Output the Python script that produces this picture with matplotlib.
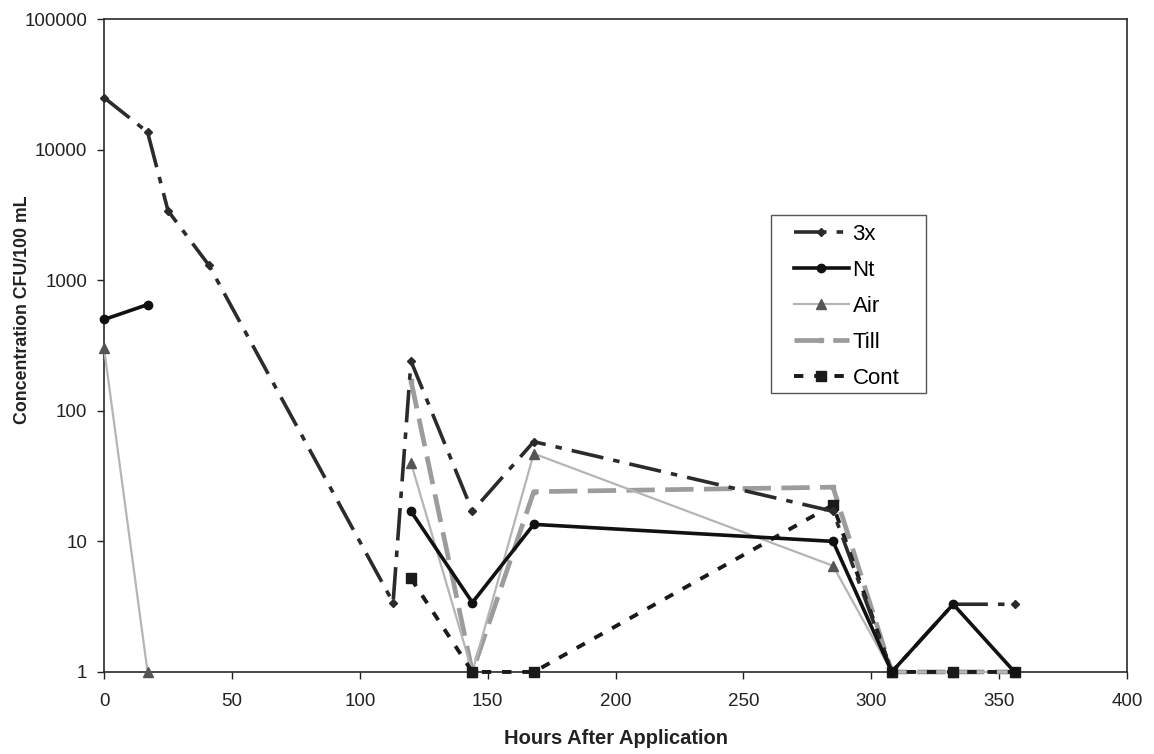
import matplotlib
matplotlib.use("Agg")
import matplotlib.pyplot as plt
from matplotlib.patches import Rectangle
from matplotlib.ticker import FixedLocator, NullLocator, FuncFormatter
import numpy as np

plt.rcParams['font.family'] = ['Liberation Sans', 'DejaVu Sans']

nan = np.nan

# sampling times (hours after application)
hours = [0, 17, 25, 41, 113, 120, 144, 168, 285, 308, 332, 356]

# concentrations, CFU/100 mL (nan = not sampled)
conc_3x = [25000, 13600, 3400, 1300, 3.4, 240, 17, 58, 17, 1, 3.3, 3.3]
conc_nt = [500, 650, nan, nan, nan, 17, 3.4, 13.5, 10, 1, 3.3, 1]
conc_air = [300, 1, nan, nan, nan, 40, 1, 47, 6.5, 1, 1, 1]
conc_till = [nan, nan, nan, nan, nan, 170, 1, 24, 26, 1, 1, 1]
conc_cont = [nan, nan, nan, nan, nan, 5.2, 1, 1, 19, 1, 1, 1]

W, H = 1154, 754
fig = plt.figure(figsize=(W / 100, H / 100), dpi=100)
ax = fig.add_axes([0.0902, 0.1088, 0.8865, 0.8660])

ax.plot(hours, conc_3x, color='#2b2b2b', lw=2.6, dashes=(9, 2.8, 1.8, 2.8),
        marker='D', ms=4.5, mfc='#2b2b2b', mec='#2b2b2b',
        label='3x', zorder=6, clip_on=False)
ax.plot(hours, conc_nt, color='#111111', lw=2.6, ls='-',
        marker='o', ms=6, mfc='#111111', mec='#111111',
        label='Nt', zorder=7, clip_on=False)
ax.plot(hours, conc_air, color='#b5b5b5', lw=1.6, ls='-',
        marker='^', ms=6.5, mfc='#555555', mec='#555555',
        label='Air', zorder=4, clip_on=False)
ax.plot(hours, conc_till, color='#9c9c9c', lw=3.4, dashes=(6, 2.2),
        marker='s', ms=2.5, mfc='#9c9c9c', mec='#9c9c9c',
        label='Till', zorder=3, clip_on=False)
ax.plot(hours, conc_cont, color='#1a1a1a', lw=2.8, dashes=(2.4, 2.8),
        marker='s', ms=6.5, mfc='#1a1a1a', mec='#1a1a1a',
        label='Cont', zorder=5, clip_on=False)

ax.set_yscale('log')
ax.set_ylim(1, 100000)
ax.set_xlim(0, 400)

ax.yaxis.set_major_locator(FixedLocator([1, 10, 100, 1000, 10000, 100000]))
ax.yaxis.set_minor_locator(NullLocator())
ax.yaxis.set_major_formatter(FuncFormatter(lambda v, p: f"{int(round(v))}"))
ax.set_xticks(np.arange(0, 401, 50))

ax.tick_params(axis='both', direction='out', length=5, width=1, colors='#222222',
               labelsize=13.5, labelcolor='#222222')
ax.tick_params(axis='y', pad=7)
ax.tick_params(axis='x', pad=10.5)

for sp in ax.spines.values():
    sp.set_color('#2a2a2a')
    sp.set_linewidth(1.2)

ax.set_xlabel('Hours After Application', fontsize=14.5, fontweight='bold', color='#222222')
ax.set_ylabel('Concentration CFU/100 mL', fontsize=12.8, fontweight='bold', color='#222222')
ax.xaxis.set_label_coords(0.5, -0.087)
ax.yaxis.set_label_coords(-0.071, 0.554)

# legend entries without their own frame; the box is drawn separately
leg = ax.legend(loc='upper left', bbox_to_anchor=((793 - 6) / W, 1 - 217 / H),
                bbox_transform=fig.transFigure, fontsize=16,
                frameon=False, handlelength=2.5, handletextpad=0.15,
                labelspacing=0.68, borderpad=0.3, borderaxespad=0)
box = Rectangle((771 / W, 1 - 393 / H), (926 - 771) / W, (393 - 215) / H,
                transform=fig.transFigure, facecolor='white', edgecolor='#555555',
                lw=1.0, zorder=8)
ax.add_patch(box)
box.set_clip_on(False)
leg.set_zorder(9)

fig.savefig('out.png', dpi=100, facecolor='white')
